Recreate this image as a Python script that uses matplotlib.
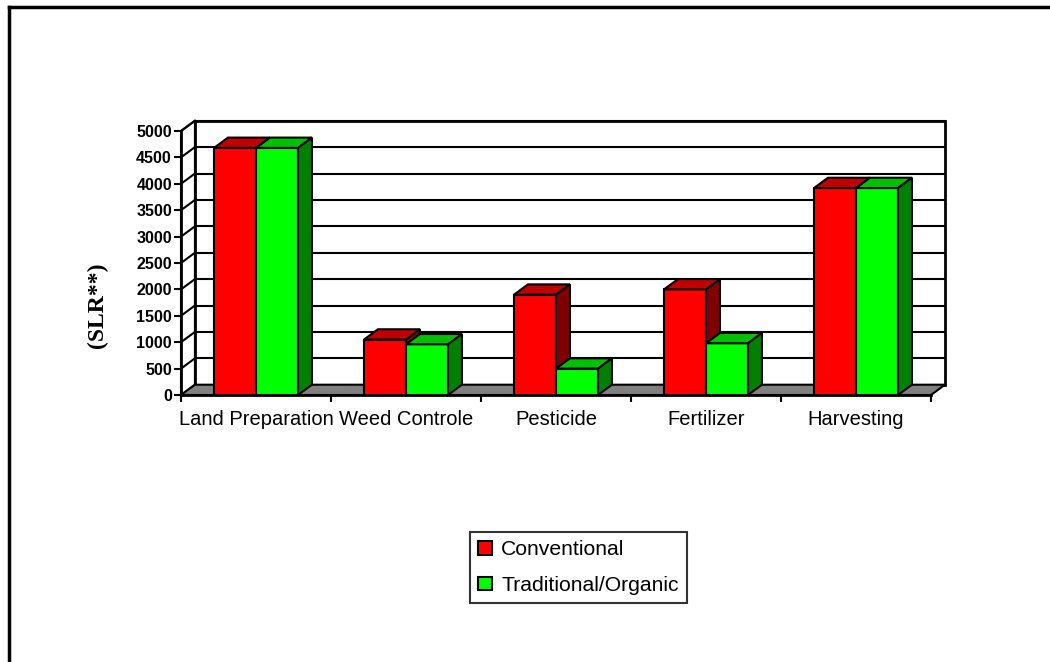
import matplotlib
matplotlib.use("Agg")
import matplotlib.pyplot as plt
from matplotlib.patches import Polygon, Patch
from matplotlib.lines import Line2D

categories = ["Land Preparation", "Weed Controle", "Pesticide", "Fertilizer", "Harvesting"]
conventional = [4680, 1050, 1900, 2000, 3920]
organic = [4680, 960, 500, 980, 3920]
series_names = ["Conventional", "Traditional/Organic"]
yticks = list(range(0, 5001, 500))

W, H = 1050, 662
fig = plt.figure(figsize=(W / 100, H / 100), dpi=100)
fig.patch.set_facecolor("white")

# front plane of the 3D plot area in pixels
x0, x1 = 181, 931
yb, yt = 395, 131
ax = fig.add_axes([x0 / W, 1 - yb / H, (x1 - x0) / W, (yb - yt) / H])
n = len(categories)
ax.set_xlim(-0.5, n - 0.5)
ax.set_ylim(0, 5000)
ax.set_facecolor("none")

DX, DY = 0.093, 195  # depth offsets in data units
BW = 0.28
LW = 1.5

xl, xr = -0.5, n - 0.5
ymax = 5000
# back wall
ax.add_patch(Polygon([(xl + DX, DY), (xr + DX, DY), (xr + DX, ymax + DY), (xl + DX, ymax + DY)],
                     closed=True, facecolor="white", edgecolor="black", lw=2, zorder=1, clip_on=False))
# left wall
ax.add_patch(Polygon([(xl, 0), (xl + DX, DY), (xl + DX, ymax + DY), (xl, ymax)],
                     closed=True, facecolor="white", edgecolor="black", lw=1.5, zorder=1, clip_on=False))
for v in yticks[1:]:
    ax.plot([xl + DX, xr + DX], [v + DY, v + DY], color="black", lw=LW, zorder=1.5, clip_on=False)
    ax.plot([xl, xl + DX], [v, v + DY], color="black", lw=LW, zorder=1.5, clip_on=False)
# floor
ax.add_patch(Polygon([(xl, 0), (xr, 0), (xr + DX, DY), (xl + DX, DY)],
                     closed=True, facecolor="#808080", edgecolor="black", lw=1.5, zorder=2, clip_on=False))


def bar3d(xleft, h, front, top, side):
    ax.bar([xleft], [h], width=BW, align="edge", color=front, edgecolor="black", lw=LW, zorder=3, clip_on=False)
    ax.add_patch(Polygon([(xleft, h), (xleft + BW, h), (xleft + BW + DX, h + DY), (xleft + DX, h + DY)],
                         closed=True, facecolor=top, edgecolor="black", lw=LW, zorder=3, clip_on=False))
    ax.add_patch(Polygon([(xleft + BW, 0), (xleft + BW + DX, DY), (xleft + BW + DX, h + DY), (xleft + BW, h)],
                         closed=True, facecolor=side, edgecolor="black", lw=LW, zorder=3, clip_on=False))


for i in range(n):
    bar3d(i - BW, conventional[i], "#FF0000", "#C00000", "#800000")
    bar3d(i, organic[i], "#00FF00", "#00C000", "#008000")

for s in ["top", "right"]:
    ax.spines[s].set_visible(False)
for s in ["left", "bottom"]:
    ax.spines[s].set_linewidth(2)
    ax.spines[s].set_zorder(4)

ax.set_yticks(yticks)
ax.set_yticklabels([str(v) for v in yticks], fontfamily="Liberation Sans", fontweight="bold", fontsize=11.5)
ax.tick_params(axis="y", length=5, width=1.5, pad=1.5)

ax.set_xticks([i - 0.5 for i in range(n + 1)])
ax.set_xticklabels([])
ax.tick_params(axis="x", which="major", length=5, width=1.5, direction="out")
ax.set_xticks(list(range(n)), minor=True)
ax.set_xticklabels(categories, minor=True, fontfamily="Liberation Sans", fontsize=14.5)
ax.tick_params(axis="x", which="minor", length=0, pad=11)

fig.text(97 / W, 1 - 305 / H, "(SLR**)", rotation=90, ha="center", va="center",
         fontfamily="Liberation Serif", fontweight="bold", fontsize=17)

handles = [Patch(facecolor="#FF0000", edgecolor="black", lw=1.5),
           Patch(facecolor="#00FF00", edgecolor="black", lw=1.5)]
leg = fig.legend(handles, series_names, loc="upper left", bbox_to_anchor=(470 / W, 1 - 532 / H),
                 prop={"family": "Liberation Sans", "size": 15.2}, frameon=True, fancybox=False,
                 edgecolor="black", handlelength=0.62, handleheight=0.62, handletextpad=0.45,
                 labelspacing=0.78, borderpad=0.4, borderaxespad=0)
leg.get_frame().set_linewidth(1.5)

# outer frame (top and left edges)
fig.add_artist(Line2D([9 / W, 1], [1 - 7 / H, 1 - 7 / H], color="black", lw=2.5, transform=fig.transFigure))
fig.add_artist(Line2D([9 / W, 9 / W], [0, 1 - 7 / H], color="black", lw=2.5, transform=fig.transFigure))

fig.savefig("out.png", dpi=100, facecolor="white")
